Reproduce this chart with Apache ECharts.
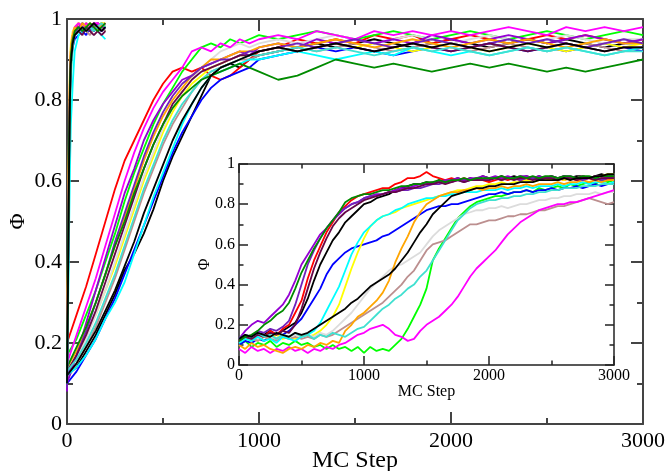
<!DOCTYPE html>
<html>
<head>
<meta charset="utf-8">
<script src="https://cdn.jsdelivr.net/npm/echarts@6/dist/echarts.min.js"></script>
<style>
  html, body { margin: 0; padding: 0; background: #fff; }
  #chart { width: 668px; height: 471px; }
</style>
</head>
<body>
<div id="chart"></div>
<script>
// xmgrace default palette, set order 0..15
const colors = ['#000000', '#ff0000', '#00ff00', '#0000ff', '#ffff00', '#bc8f8f', '#dcdcdc', '#9400d3',
  '#00ffff', '#ff00ff', '#ffa500', '#7221bc', '#670748', '#40e0d0', '#008b00', '#000000'];

const xTicks = [0, 1000, 2000, 3000];
const yTicks = [0, 0.2, 0.4, 0.6, 0.8, 1];

// ---- main plot, fast runs (steps 0..200)
const fastSteps = [0, 5, 10, 15, 20, 30, 40, 60, 80, 100, 120, 140, 160, 180, 200];
const fBlack = [0.1, 0.35, 0.62, 0.8, 0.9, 0.95, 0.97, 0.98, 0.97, 0.99, 0.98, 0.97, 0.98, 0.99, 0.98];
const fRed = [0.12, 0.4, 0.68, 0.85, 0.92, 0.96, 0.97, 0.99, 0.98, 0.97, 0.99, 0.98, 0.99, 0.98, 0.99];
const fGreen = [0.09, 0.3, 0.58, 0.78, 0.88, 0.94, 0.96, 0.97, 0.99, 0.98, 0.97, 0.98, 0.99, 0.98, 0.97];
const fBlue = [0.11, 0.33, 0.6, 0.79, 0.89, 0.93, 0.95, 0.96, 0.97, 0.96, 0.98, 0.97, 0.98, 0.97, 0.98];
const fYellow = [0.1, 0.45, 0.72, 0.88, 0.94, 0.97, 0.98, 0.99, 0.98, 0.99, 0.98, 0.99, 0.98, 0.99, 0.99];
const fBrown = [0.13, 0.38, 0.64, 0.82, 0.91, 0.95, 0.96, 0.97, 0.98, 0.97, 0.96, 0.98, 0.97, 0.98, 0.97];
const fGrey = [0.12, 0.36, 0.63, 0.81, 0.9, 0.95, 0.97, 0.98, 0.97, 0.98, 0.99, 0.98, 0.97, 0.98, 0.99];
const fViolet = [0.08, 0.32, 0.6, 0.8, 0.9, 0.95, 0.97, 0.98, 0.99, 0.98, 0.97, 0.98, 0.99, 0.98, 0.98];
const fCyan = [0.11, 0.25, 0.45, 0.62, 0.74, 0.84, 0.92, 0.96, 0.97, 0.98, 0.97, 0.98, 0.97, 0.96, 0.95];
const fMagenta = [0.1, 0.37, 0.65, 0.84, 0.92, 0.96, 0.98, 0.99, 0.98, 0.99, 0.98, 0.99, 0.99, 0.98, 0.99];
const fOrange = [0.12, 0.42, 0.7, 0.86, 0.93, 0.96, 0.98, 0.97, 0.99, 0.98, 0.99, 0.98, 0.97, 0.99, 0.98];
const fIndigo = [0.09, 0.34, 0.61, 0.8, 0.9, 0.95, 0.96, 0.98, 0.97, 0.98, 0.97, 0.99, 0.98, 0.97, 0.98];
const fMaroon = [0.11, 0.35, 0.62, 0.81, 0.9, 0.94, 0.96, 0.97, 0.96, 0.98, 0.97, 0.96, 0.97, 0.96, 0.97];
const fTurq = [0.1, 0.3, 0.55, 0.75, 0.86, 0.93, 0.96, 0.97, 0.98, 0.97, 0.98, 0.97, 0.98, 0.99, 0.98];
const fGreen4 = [0.12, 0.36, 0.63, 0.82, 0.91, 0.95, 0.97, 0.98, 0.97, 0.98, 0.99, 0.98, 0.97, 0.98, 0.99];
const fBlack2 = [0.1, 0.33, 0.6, 0.79, 0.89, 0.94, 0.96, 0.97, 0.98, 0.97, 0.98, 0.99, 0.98, 0.97, 0.98];

// ---- main plot, slow runs
const mainSteps = [0, 50, 100, 150, 200, 250, 300, 350, 400, 450,
  500, 550, 600, 650, 700, 750, 800, 850, 900, 950,
  1000, 1100, 1200, 1300, 1400, 1500, 1600, 1700, 1800, 1900,
  2000, 2100, 2200, 2300, 2400, 2500, 2600, 2700, 2800, 2900, 3000];
const mBlack = [0.12, 0.14, 0.18, 0.22, 0.27, 0.32, 0.38, 0.42, 0.47, 0.53,
  0.6, 0.66, 0.71, 0.76, 0.81, 0.86, 0.88, 0.89, 0.88, 0.9,
  0.91, 0.92, 0.93, 0.94, 0.93, 0.94, 0.95, 0.94, 0.93, 0.94,
  0.95, 0.94, 0.93, 0.94, 0.95, 0.94, 0.95, 0.94, 0.93, 0.94, 0.94];
const mRed = [0.2, 0.27, 0.34, 0.42, 0.5, 0.58, 0.65, 0.7, 0.75, 0.8,
  0.84, 0.87, 0.88, 0.87, 0.88, 0.86, 0.85, 0.86, 0.88, 0.9,
  0.92, 0.93, 0.95, 0.94, 0.95, 0.94, 0.96, 0.95, 0.96, 0.94,
  0.95, 0.96, 0.95, 0.94, 0.95, 0.96, 0.95, 0.96, 0.95, 0.94, 0.95];
const mGreen = [0.17, 0.21, 0.27, 0.33, 0.4, 0.47, 0.55, 0.62, 0.68, 0.74,
  0.79, 0.83, 0.87, 0.9, 0.93, 0.94, 0.93, 0.95, 0.94, 0.95,
  0.96, 0.95, 0.96, 0.97, 0.96, 0.95, 0.96, 0.97, 0.96, 0.95,
  0.96, 0.97, 0.96, 0.95, 0.96, 0.97, 0.96, 0.95, 0.96, 0.97, 0.96];
const mBlue = [0.1, 0.13, 0.17, 0.21, 0.26, 0.31, 0.37, 0.43, 0.49, 0.55,
  0.61, 0.67, 0.72, 0.76, 0.8, 0.83, 0.85, 0.86, 0.87, 0.88,
  0.9, 0.91, 0.92, 0.93, 0.92, 0.93, 0.92, 0.91, 0.92, 0.93,
  0.92, 0.93, 0.94, 0.93, 0.92, 0.93, 0.92, 0.93, 0.94, 0.93, 0.92];
const mYellow = [0.13, 0.17, 0.22, 0.27, 0.33, 0.39, 0.46, 0.53, 0.6, 0.66,
  0.72, 0.77, 0.81, 0.84, 0.86, 0.88, 0.89, 0.9, 0.91, 0.91,
  0.92, 0.93, 0.92, 0.93, 0.94, 0.93, 0.94, 0.93, 0.92, 0.93,
  0.94, 0.93, 0.92, 0.93, 0.94, 0.93, 0.92, 0.93, 0.94, 0.93, 0.94];
const mBrown = [0.11, 0.15, 0.19, 0.24, 0.3, 0.36, 0.43, 0.5, 0.57, 0.63,
  0.69, 0.74, 0.78, 0.82, 0.85, 0.87, 0.88, 0.89, 0.9, 0.9,
  0.91, 0.92, 0.93, 0.92, 0.93, 0.94, 0.93, 0.92, 0.93, 0.94,
  0.93, 0.92, 0.93, 0.94, 0.93, 0.92, 0.93, 0.94, 0.93, 0.92, 0.93];
const mGrey = [0.12, 0.16, 0.21, 0.27, 0.33, 0.4, 0.47, 0.54, 0.61, 0.67,
  0.73, 0.78, 0.82, 0.85, 0.88, 0.9, 0.92, 0.93, 0.94, 0.93,
  0.94, 0.95, 0.94, 0.95, 0.96, 0.95, 0.94, 0.95, 0.96, 0.95,
  0.94, 0.95, 0.96, 0.95, 0.94, 0.95, 0.96, 0.95, 0.94, 0.95, 0.95];
const mViolet = [0.1, 0.17, 0.25, 0.33, 0.41, 0.49, 0.57, 0.63, 0.7, 0.75,
  0.79, 0.82, 0.85, 0.86, 0.88, 0.89, 0.9, 0.91, 0.92, 0.91,
  0.93, 0.94, 0.93, 0.95, 0.94, 0.95, 0.94, 0.95, 0.94, 0.96,
  0.95, 0.94, 0.95, 0.96, 0.95, 0.94, 0.95, 0.96, 0.95, 0.94, 0.95];
const mCyan = [0.12, 0.14, 0.17, 0.21, 0.26, 0.3, 0.35, 0.42, 0.49, 0.56,
  0.62, 0.68, 0.74, 0.79, 0.83, 0.86, 0.87, 0.88, 0.89, 0.9,
  0.9, 0.91, 0.92, 0.91, 0.9, 0.91, 0.92, 0.91, 0.93, 0.92,
  0.91, 0.92, 0.91, 0.92, 0.93, 0.92, 0.93, 0.92, 0.91, 0.92, 0.93];
const mMagenta = [0.15, 0.22, 0.29, 0.36, 0.44, 0.52, 0.6, 0.67, 0.73, 0.78,
  0.82, 0.85, 0.88, 0.92, 0.93, 0.92, 0.94, 0.93, 0.95, 0.94,
  0.95, 0.96, 0.95, 0.97, 0.96, 0.95, 0.97, 0.96, 0.97, 0.96,
  0.97, 0.96, 0.97, 0.98, 0.97, 0.96, 0.98, 0.97, 0.98, 0.97, 0.98];
const mOrange = [0.14, 0.18, 0.24, 0.3, 0.37, 0.44, 0.51, 0.58, 0.65, 0.71,
  0.76, 0.8, 0.83, 0.86, 0.88, 0.9, 0.9, 0.91, 0.92, 0.92,
  0.93, 0.94, 0.93, 0.94, 0.95, 0.94, 0.93, 0.94, 0.95, 0.94,
  0.93, 0.94, 0.95, 0.94, 0.95, 0.94, 0.93, 0.94, 0.95, 0.94, 0.94];
const mIndigo = [0.12, 0.17, 0.23, 0.3, 0.37, 0.45, 0.52, 0.59, 0.66, 0.72,
  0.77, 0.81, 0.84, 0.86, 0.88, 0.89, 0.9, 0.9, 0.91, 0.92,
  0.92, 0.93, 0.94, 0.93, 0.94, 0.95, 0.94, 0.93, 0.94, 0.95,
  0.94, 0.93, 0.94, 0.95, 0.94, 0.95, 0.94, 0.93, 0.94, 0.95, 0.94];
const mMaroon = [0.13, 0.17, 0.22, 0.28, 0.35, 0.42, 0.49, 0.56, 0.63, 0.69,
  0.74, 0.79, 0.82, 0.85, 0.87, 0.88, 0.89, 0.9, 0.91, 0.91,
  0.92, 0.93, 0.92, 0.93, 0.94, 0.93, 0.92, 0.93, 0.94, 0.93,
  0.92, 0.93, 0.94, 0.93, 0.92, 0.93, 0.94, 0.93, 0.92, 0.93, 0.93];
const mTurq = [0.13, 0.16, 0.2, 0.25, 0.31, 0.37, 0.44, 0.51, 0.58, 0.64,
  0.7, 0.75, 0.79, 0.82, 0.85, 0.87, 0.88, 0.89, 0.9, 0.91,
  0.91, 0.92, 0.93, 0.92, 0.93, 0.92, 0.91, 0.92, 0.93, 0.92,
  0.93, 0.92, 0.91, 0.92, 0.93, 0.92, 0.93, 0.92, 0.91, 0.92, 0.92];
const mGreen4 = [0.14, 0.19, 0.24, 0.3, 0.37, 0.44, 0.5, 0.57, 0.63, 0.69,
  0.74, 0.78, 0.81, 0.83, 0.85, 0.86, 0.87, 0.88, 0.89, 0.88,
  0.87, 0.85, 0.86, 0.88, 0.9, 0.89, 0.88, 0.89, 0.88, 0.87,
  0.88, 0.89, 0.88, 0.89, 0.88, 0.87, 0.88, 0.87, 0.88, 0.89, 0.9];
const mBlack2 = [0.12, 0.15, 0.19, 0.23, 0.28, 0.33, 0.39, 0.45, 0.52, 0.58,
  0.64, 0.7, 0.75, 0.79, 0.83, 0.86, 0.88, 0.89, 0.9, 0.91,
  0.92, 0.93, 0.92, 0.93, 0.94, 0.93, 0.92, 0.93, 0.94, 0.93,
  0.94, 0.93, 0.92, 0.93, 0.94, 0.93, 0.94, 0.93, 0.92, 0.93, 0.93];

// ---- inset, every 50 steps 0..3000
const insetSteps = [0, 50, 100, 150, 200, 250, 300, 350, 400, 450,
  500, 550, 600, 650, 700, 750, 800, 850, 900, 950,
  1000, 1050, 1100, 1150, 1200, 1250, 1300, 1350, 1400, 1450,
  1500, 1550, 1600, 1650, 1700, 1750, 1800, 1850, 1900, 1950,
  2000, 2050, 2100, 2150, 2200, 2250, 2300, 2350, 2400, 2450,
  2500, 2550, 2600, 2650, 2700, 2750, 2800, 2850, 2900, 2950, 3000];
const inBlack = [0.12, 0.14, 0.13, 0.16, 0.15, 0.17, 0.15, 0.17, 0.19, 0.21,
  0.26, 0.33, 0.42, 0.5, 0.56, 0.62, 0.66, 0.71, 0.74, 0.77,
  0.8, 0.81, 0.83, 0.84, 0.85, 0.87, 0.88, 0.89, 0.9, 0.9,
  0.91, 0.9, 0.92, 0.91, 0.92, 0.93, 0.92, 0.93, 0.92, 0.94,
  0.93, 0.93, 0.94, 0.93, 0.94, 0.93, 0.94, 0.93, 0.94, 0.93,
  0.94, 0.93, 0.94, 0.93, 0.94, 0.94, 0.93, 0.94, 0.95, 0.94, 0.94];
const inRed = [0.12, 0.15, 0.13, 0.16, 0.14, 0.17, 0.15, 0.18, 0.2, 0.26,
  0.32, 0.43, 0.52, 0.59, 0.66, 0.71, 0.76, 0.79, 0.82, 0.84,
  0.85, 0.86, 0.87, 0.88, 0.88, 0.9, 0.91, 0.93, 0.93, 0.94,
  0.96, 0.94, 0.93, 0.92, 0.93, 0.92, 0.93, 0.92, 0.93, 0.92,
  0.91, 0.92, 0.93, 0.92, 0.93, 0.92, 0.92, 0.93, 0.92, 0.93,
  0.92, 0.93, 0.92, 0.93, 0.92, 0.92, 0.93, 0.92, 0.93, 0.92, 0.93];
const inGreen = [0.1, 0.12, 0.09, 0.11, 0.1, 0.12, 0.09, 0.11, 0.1, 0.12,
  0.1, 0.11, 0.09, 0.1, 0.08, 0.1, 0.08, 0.09, 0.07, 0.09,
  0.06, 0.09, 0.07, 0.08, 0.07, 0.1, 0.13, 0.18, 0.24, 0.3,
  0.38, 0.52, 0.58, 0.63, 0.68, 0.73, 0.76, 0.79, 0.81, 0.82,
  0.83, 0.84, 0.84, 0.85, 0.86, 0.86, 0.87, 0.86, 0.88, 0.87,
  0.88, 0.89, 0.88, 0.9, 0.89, 0.9, 0.91, 0.9, 0.92, 0.91, 0.92];
const inBlue = [0.1, 0.12, 0.11, 0.13, 0.12, 0.14, 0.13, 0.15, 0.17, 0.2,
  0.23, 0.28, 0.33, 0.38, 0.45, 0.5, 0.53, 0.56, 0.58, 0.59,
  0.6, 0.61, 0.62, 0.64, 0.65, 0.67, 0.69, 0.71, 0.73, 0.75,
  0.77, 0.78, 0.79, 0.79, 0.8, 0.8, 0.81, 0.82, 0.83, 0.84,
  0.85, 0.85, 0.86, 0.85, 0.86, 0.86, 0.87, 0.86, 0.87, 0.87,
  0.88, 0.87, 0.88, 0.88, 0.89, 0.88, 0.89, 0.9, 0.89, 0.9, 0.9];
const inYellow = [0.12, 0.14, 0.13, 0.12, 0.14, 0.13, 0.15, 0.13, 0.14, 0.13,
  0.15, 0.14, 0.15, 0.17, 0.2, 0.24, 0.3, 0.39, 0.48, 0.56,
  0.63, 0.69, 0.72, 0.74, 0.75, 0.76, 0.78, 0.79, 0.8, 0.81,
  0.82, 0.83, 0.84, 0.85, 0.86, 0.87, 0.87, 0.88, 0.89, 0.89,
  0.9, 0.9, 0.91, 0.9, 0.91, 0.91, 0.92, 0.91, 0.92, 0.92,
  0.92, 0.93, 0.92, 0.93, 0.93, 0.94, 0.93, 0.94, 0.94, 0.95, 0.95];
const inBrown = [0.12, 0.14, 0.13, 0.12, 0.14, 0.13, 0.12, 0.14, 0.13, 0.14,
  0.13, 0.14, 0.13, 0.15, 0.14, 0.15, 0.17, 0.19, 0.21, 0.23,
  0.25, 0.27, 0.29, 0.31, 0.34, 0.37, 0.4, 0.44, 0.47, 0.52,
  0.57, 0.6, 0.61, 0.62, 0.64, 0.66, 0.68, 0.7, 0.7, 0.71,
  0.72, 0.72, 0.73, 0.74, 0.74, 0.75, 0.75, 0.76, 0.77, 0.77,
  0.78, 0.79, 0.79, 0.8, 0.81, 0.82, 0.83, 0.82, 0.81, 0.8, 0.81];
const inGrey = [0.13, 0.15, 0.14, 0.13, 0.15, 0.14, 0.13, 0.15, 0.14, 0.15,
  0.14, 0.15, 0.14, 0.16, 0.15, 0.17, 0.2, 0.23, 0.26, 0.3,
  0.34, 0.38, 0.41, 0.44, 0.47, 0.49, 0.5, 0.52, 0.54, 0.56,
  0.6, 0.64, 0.67, 0.69, 0.71, 0.73, 0.75, 0.76, 0.77, 0.77,
  0.78, 0.78, 0.79, 0.78, 0.79, 0.8, 0.8, 0.81, 0.82, 0.82,
  0.83, 0.83, 0.84, 0.84, 0.85, 0.85, 0.85, 0.86, 0.85, 0.86, 0.86];
const inViolet = [0.13, 0.17, 0.2, 0.22, 0.21, 0.24, 0.27, 0.3, 0.35, 0.42,
  0.5, 0.55, 0.6, 0.65, 0.68, 0.72, 0.75, 0.78, 0.8, 0.81,
  0.83, 0.84, 0.85, 0.85, 0.86, 0.87, 0.88, 0.88, 0.89, 0.9,
  0.9, 0.91, 0.91, 0.92, 0.92, 0.93, 0.92, 0.93, 0.93, 0.94,
  0.93, 0.94, 0.93, 0.94, 0.93, 0.94, 0.94, 0.93, 0.94, 0.93,
  0.94, 0.93, 0.94, 0.94, 0.93, 0.94, 0.93, 0.94, 0.94, 0.93, 0.94];
const inCyan = [0.11, 0.13, 0.12, 0.14, 0.12, 0.13, 0.11, 0.14, 0.13, 0.12,
  0.14, 0.15, 0.17, 0.21, 0.27, 0.33, 0.39, 0.47, 0.55, 0.61,
  0.66, 0.69, 0.72, 0.74, 0.75, 0.77, 0.78, 0.8, 0.81, 0.82,
  0.83, 0.83, 0.84, 0.84, 0.85, 0.85, 0.86, 0.86, 0.86, 0.87,
  0.87, 0.87, 0.88, 0.87, 0.88, 0.88, 0.89, 0.88, 0.89, 0.89,
  0.89, 0.9, 0.89, 0.9, 0.9, 0.91, 0.9, 0.91, 0.91, 0.9, 0.91];
const inMagenta = [0.08, 0.06, 0.09, 0.07, 0.08, 0.06, 0.08, 0.07, 0.09, 0.07,
  0.08, 0.06, 0.08, 0.07, 0.09, 0.08, 0.1, 0.11, 0.13, 0.15,
  0.16, 0.18, 0.19, 0.2, 0.18, 0.15, 0.14, 0.12, 0.13, 0.17,
  0.2, 0.22, 0.24, 0.27, 0.3, 0.34, 0.39, 0.44, 0.48, 0.51,
  0.54, 0.57, 0.61, 0.65, 0.68, 0.71, 0.73, 0.75, 0.77, 0.78,
  0.79, 0.8, 0.8, 0.81, 0.81, 0.82, 0.83, 0.84, 0.85, 0.86, 0.87];
const inOrange = [0.1, 0.08, 0.11, 0.09, 0.1, 0.08, 0.07, 0.06, 0.08, 0.09,
  0.08, 0.1, 0.09, 0.11, 0.1, 0.12, 0.11, 0.17, 0.2, 0.24,
  0.26, 0.29, 0.32, 0.36, 0.42, 0.51, 0.58, 0.64, 0.71, 0.76,
  0.8, 0.82, 0.84, 0.85, 0.86, 0.86, 0.87, 0.87, 0.88, 0.87,
  0.88, 0.88, 0.89, 0.88, 0.89, 0.89, 0.9, 0.89, 0.9, 0.9,
  0.9, 0.91, 0.9, 0.91, 0.91, 0.92, 0.91, 0.92, 0.91, 0.92, 0.92];
const inIndigo = [0.12, 0.15, 0.14, 0.17, 0.16, 0.18, 0.17, 0.19, 0.22, 0.3,
  0.4, 0.5, 0.57, 0.63, 0.68, 0.72, 0.76, 0.78, 0.8, 0.81,
  0.83, 0.84, 0.84, 0.85, 0.86, 0.86, 0.87, 0.87, 0.88, 0.88,
  0.89, 0.9, 0.9, 0.91, 0.91, 0.92, 0.91, 0.92, 0.92, 0.92,
  0.92, 0.93, 0.92, 0.93, 0.93, 0.92, 0.93, 0.93, 0.92, 0.93,
  0.93, 0.92, 0.93, 0.93, 0.93, 0.92, 0.93, 0.93, 0.92, 0.93, 0.93];
const inMaroon = [0.12, 0.14, 0.13, 0.15, 0.14, 0.16, 0.15, 0.17, 0.16, 0.2,
  0.28, 0.38, 0.48, 0.56, 0.63, 0.69, 0.73, 0.76, 0.78, 0.8,
  0.82, 0.83, 0.84, 0.85, 0.86, 0.86, 0.87, 0.88, 0.88, 0.89,
  0.9, 0.9, 0.91, 0.9, 0.91, 0.92, 0.91, 0.92, 0.92, 0.92,
  0.92, 0.93, 0.92, 0.93, 0.92, 0.93, 0.93, 0.92, 0.93, 0.93,
  0.93, 0.92, 0.93, 0.93, 0.92, 0.93, 0.93, 0.92, 0.93, 0.93, 0.93];
const inTurq = [0.13, 0.15, 0.14, 0.16, 0.14, 0.15, 0.13, 0.15, 0.14, 0.16,
  0.14, 0.15, 0.13, 0.15, 0.14, 0.16, 0.15, 0.14, 0.16, 0.18,
  0.19, 0.22, 0.25, 0.28, 0.3, 0.33, 0.35, 0.38, 0.4, 0.44,
  0.47, 0.52, 0.57, 0.62, 0.67, 0.72, 0.75, 0.78, 0.8, 0.81,
  0.82, 0.82, 0.83, 0.83, 0.84, 0.84, 0.85, 0.85, 0.86, 0.86,
  0.87, 0.87, 0.88, 0.88, 0.88, 0.89, 0.89, 0.89, 0.9, 0.9, 0.9];
const inGreen4 = [0.12, 0.14, 0.15, 0.17, 0.2, 0.22, 0.25, 0.27, 0.31, 0.38,
  0.46, 0.52, 0.58, 0.63, 0.68, 0.72, 0.76, 0.81, 0.83, 0.84,
  0.85, 0.85, 0.86, 0.87, 0.87, 0.88, 0.89, 0.89, 0.9, 0.9,
  0.91, 0.91, 0.92, 0.91, 0.92, 0.92, 0.93, 0.92, 0.93, 0.93,
  0.93, 0.93, 0.94, 0.93, 0.93, 0.94, 0.93, 0.94, 0.93, 0.94,
  0.94, 0.93, 0.94, 0.94, 0.93, 0.94, 0.94, 0.93, 0.94, 0.94, 0.94];
const inBlack2 = [0.13, 0.15, 0.14, 0.16, 0.15, 0.14, 0.16, 0.15, 0.14, 0.16,
  0.15, 0.16, 0.18, 0.2, 0.22, 0.24, 0.26, 0.28, 0.31, 0.33,
  0.36, 0.39, 0.41, 0.43, 0.45, 0.48, 0.52, 0.56, 0.61, 0.66,
  0.7, 0.75, 0.78, 0.81, 0.84, 0.85, 0.86, 0.87, 0.88, 0.88,
  0.89, 0.89, 0.9, 0.9, 0.9, 0.91, 0.91, 0.91, 0.92, 0.92,
  0.92, 0.92, 0.93, 0.92, 0.93, 0.93, 0.93, 0.94, 0.94, 0.95, 0.95];

const fastSets = [fBlack, fRed, fGreen, fBlue, fYellow, fBrown, fGrey, fViolet,
  fCyan, fMagenta, fOrange, fIndigo, fMaroon, fTurq, fGreen4, fBlack2];
const mainSets = [mBlack, mRed, mGreen, mBlue, mYellow, mBrown, mGrey, mViolet,
  mCyan, mMagenta, mOrange, mIndigo, mMaroon, mTurq, mGreen4, mBlack2];
const insetSets = [inBlack, inRed, inGreen, inBlue, inYellow, inBrown, inGrey, inViolet,
  inCyan, inMagenta, inOrange, inIndigo, inMaroon, inTurq, inGreen4, inBlack2];

const serif = '"Liberation Serif", "Times New Roman", serif';

function pairs(xs, ys) {
  return xs.map(function (x, i) { return [x, ys[i]]; });
}

// plain numbers, no thousands separator
function plain(v) { return String(v); }

function axis(o) {
  var c = o.color || '#444';
  var a = {
    type: 'value',
    gridIndex: o.grid,
    position: o.position,
    min: o.min,
    max: o.max,
    interval: o.interval,
    axisLine: { show: true, onZero: false, lineStyle: { color: c, width: o.lw } },
    axisTick: { show: true, inside: true, length: o.tick, lineStyle: { color: c, width: o.lw } },
    minorTick: { show: true, splitNumber: 2, length: o.tick / 2, lineStyle: { color: c, width: o.lw } },
    splitLine: { show: false },
    minorSplitLine: { show: false },
    axisLabel: {
      show: !!o.font,
      fontFamily: serif,
      fontSize: o.font,
      color: '#000',
      margin: o.margin,
      formatter: plain
    }
  };
  if (o.name) {
    a.name = o.name;
    a.nameLocation = 'middle';
    a.nameGap = o.nameGap;
    a.nameMoveOverlap = false;
    a.nameRotate = o.nameRotate || 0;
    a.nameTextStyle = { fontFamily: serif, fontSize: o.nameSize, color: '#000' };
  }
  return a;
}

const xMax = xTicks[xTicks.length - 1];
const yMax = yTicks[yTicks.length - 1];

const series = [];
mainSets.forEach(function (vals, i) {
  series.push({
    type: 'line', xAxisIndex: 0, yAxisIndex: 0, showSymbol: false, silent: true,
    lineStyle: { color: colors[i], width: 1.8 },
    data: pairs(mainSteps, vals)
  });
});
fastSets.forEach(function (vals, i) {
  series.push({
    type: 'line', xAxisIndex: 0, yAxisIndex: 0, showSymbol: false, silent: true,
    lineStyle: { color: colors[i], width: 1.8 },
    data: pairs(fastSteps, vals)
  });
});
insetSets.forEach(function (vals, i) {
  series.push({
    type: 'line', xAxisIndex: 2, yAxisIndex: 2, showSymbol: false, silent: true,
    lineStyle: { color: colors[i], width: 1.8 },
    data: pairs(insetSteps, vals)
  });
});

const chart = echarts.init(document.getElementById('chart'), null, { renderer: 'canvas' });
chart.setOption({
  animation: false,
  backgroundColor: '#fff',
  grid: [
    { left: 67, right: 25, top: 19, bottom: 47, containLabel: false, outerBoundsMode: 'none' },
    { left: 239, right: 54, top: 164, bottom: 106, containLabel: false, outerBoundsMode: 'none',
      show: true, backgroundColor: '#fff', borderWidth: 0 }
  ],
  xAxis: [
    axis({ grid: 0, position: 'bottom', min: 0, max: xMax, interval: 1000, lw: 2, tick: 12, font: 22, margin: 6,
      name: 'MC Step', nameGap: 25, nameSize: 24 }),
    axis({ grid: 0, position: 'top', min: 0, max: xMax, interval: 1000, lw: 2, tick: 12 }),
    axis({ grid: 1, position: 'bottom', min: 0, max: xMax, interval: 1000, lw: 1.5, tick: 9, font: 16, margin: 3,
      name: 'MC Step', nameGap: 19, nameSize: 16, color: '#222' }),
    axis({ grid: 1, position: 'top', min: 0, max: xMax, interval: 1000, lw: 1.5, tick: 9, color: '#222' })
  ],
  yAxis: [
    axis({ grid: 0, position: 'left', min: 0, max: yMax, interval: 0.2, lw: 2, tick: 12, font: 22, margin: 5,
      name: 'Φ', nameGap: 38, nameSize: 22, nameRotate: 90 }),
    axis({ grid: 0, position: 'right', min: 0, max: yMax, interval: 0.2, lw: 2, tick: 12 }),
    axis({ grid: 1, position: 'left', min: 0, max: yMax, interval: 0.2, lw: 1.5, tick: 9, font: 16, margin: 4,
      name: 'Φ', nameGap: 26, nameSize: 16, nameRotate: 90, color: '#222' }),
    axis({ grid: 1, position: 'right', min: 0, max: yMax, interval: 0.2, lw: 1.5, tick: 9, color: '#222' })
  ],
  series: series
});
</script>
</body>
</html>
